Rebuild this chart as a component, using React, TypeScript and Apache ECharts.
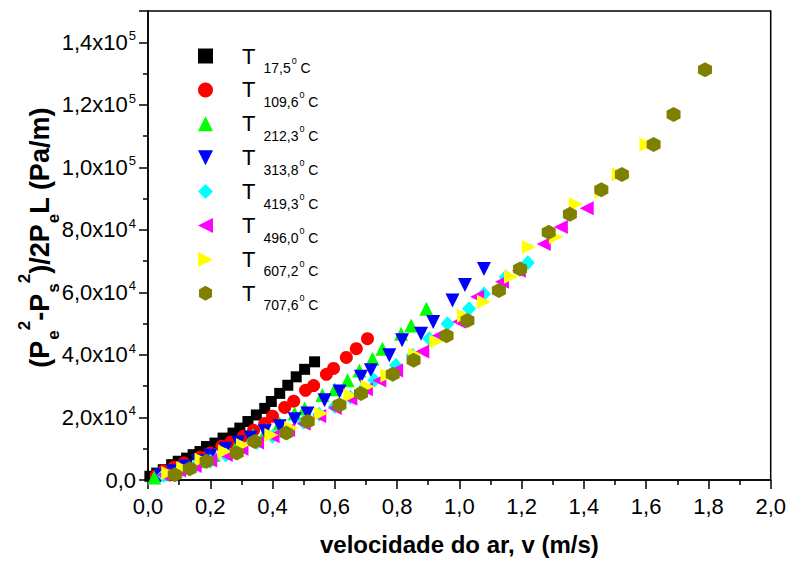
import React, { useEffect, useRef } from "react";
import * as echarts from "echarts";

const FONT = '"Liberation Sans", Arial, Helvetica, sans-serif';

// Series names (temperatures, °C) shown in the legend as T_{name}^0 C
const seriesNames = ["17,5", "109,6", "212,3", "313,8", "419,3", "496,0", "607,2", "707,6"];
const seriesColors = ["#000000", "#ff0000", "#00ff00", "#0000ff", "#00ffff", "#ff00ff", "#ffff00", "#808000"];

// [velocity m/s, (Pe²-Ps²)/2PeL Pa/m]
const t17_5 = [
  [0.535, 37800], [0.503, 35400], [0.476, 33000], [0.449, 30300], [0.423, 27700], [0.396, 25100],
  [0.375, 22900], [0.348, 20800], [0.321, 18700], [0.295, 16600], [0.273, 15000], [0.241, 13400],
  [0.215, 11800], [0.188, 10700], [0.167, 9100], [0.145, 8100], [0.124, 7000], [0.097, 6000],
  [0.076, 4900], [0.049, 3300], [0.028, 2200], [0.006, 1200],
];
const t109_6 = [
  [0.705, 45200], [0.669, 42000], [0.637, 39200], [0.596, 35700], [0.573, 33800], [0.532, 30200],
  [0.506, 28700], [0.468, 25200], [0.439, 23200], [0.4, 20400], [0.375, 18100], [0.339, 15900],
  [0.307, 14000], [0.266, 12100], [0.237, 10800], [0.199, 8600], [0.167, 7300], [0.115, 5400],
  [0.083, 4100], [0.051, 2900], [0.026, 1300],
];
const t212_3 = [
  [0.894, 54800], [0.845, 49400], [0.813, 46800], [0.753, 42000], [0.721, 38800], [0.679, 35000],
  [0.641, 31900], [0.6, 29000], [0.56, 27200], [0.503, 22900], [0.471, 21300], [0.423, 18100],
  [0.38, 16000], [0.337, 14400], [0.29, 12000], [0.25, 10000], [0.21, 8000], [0.17, 6000],
  [0.13, 4500], [0.09, 3000], [0.05, 1800], [0.02, 800],
];
const t313_8 = [
  [1.079, 67500], [1.018, 62400], [0.978, 57400], [0.916, 50500], [0.877, 46800], [0.816, 44700],
  [0.775, 39900], [0.716, 35100], [0.684, 33000], [0.615, 28300], [0.567, 25500], [0.512, 21300],
  [0.471, 19400], [0.423, 17200], [0.375, 15600], [0.33, 13500], [0.29, 12000], [0.25, 10000],
  [0.2, 7800], [0.16, 6000], [0.12, 4300], [0.08, 2800], [0.04, 1400],
];
const t419_3 = [
  [1.22, 69500], [1.149, 64900], [1.079, 59500], [1.031, 54800], [0.962, 50000], [0.903, 45200],
  [0.85, 39900], [0.796, 36700], [0.727, 31900], [0.69, 29000], [0.65, 26500], [0.6, 23500],
  [0.55, 21000], [0.5, 18500], [0.45, 16000], [0.4, 14000], [0.35, 12000], [0.3, 10000],
  [0.25, 8000], [0.2, 6000], [0.15, 4200], [0.1, 2800], [0.05, 1500],
];
const t496_0 = [
  [1.409, 86900], [1.326, 80900], [1.271, 75500], [1.191, 66900], [1.137, 63400], [1.057, 58600],
  [0.999, 50600], [0.935, 46200], [0.881, 41100], [0.797, 35000], [0.743, 31800], [0.7, 29000],
  [0.65, 26000], [0.6, 23000], [0.55, 20500], [0.5, 18000], [0.45, 16000], [0.4, 14000],
  [0.35, 12000], [0.3, 10000], [0.25, 8000], [0.2, 6200], [0.15, 4500], [0.1, 3000], [0.05, 1600],
];
const t607_2 = [
  [1.601, 107300], [1.512, 97700], [1.457, 92300], [1.374, 88200], [1.31, 77700], [1.223, 74500],
  [1.166, 65000], [1.079, 57000], [1.015, 52500], [0.926, 44300], [0.858, 40100], [0.769, 33400],
  [0.705, 29900], [0.65, 27000], [0.556, 21300], [0.46, 16600], [0.396, 14400], [0.305, 11200],
  [0.247, 9100], [0.172, 6500], [0.113, 3800], [0.065, 2200],
];
const t707_6 = [
  [1.789, 131200], [1.688, 116900], [1.624, 107300], [1.522, 97700], [1.456, 92800], [1.355, 85000],
  [1.287, 79200], [1.195, 67500], [1.127, 60600], [1.026, 51000], [0.959, 46100], [0.853, 38300],
  [0.786, 33800], [0.684, 27700], [0.615, 24000], [0.513, 18700], [0.444, 15000], [0.343, 12300],
  [0.285, 8600], [0.188, 6000], [0.134, 3600], [0.086, 1700],
];

const HEX = "path://M0,-10 L8.66,-5 L8.66,5 L0,10 L-8.66,5 L-8.66,-5 Z";
const TRI_DOWN = "path://M0,0 L10,0 L5,10 Z";
const TRI_LEFT = "path://M10,0 L10,10 L0,5 Z";
const TRI_RIGHT = "path://M0,0 L0,10 L10,5 Z";
const allData = [t17_5, t109_6, t212_3, t313_8, t419_3, t496_0, t607_2, t707_6];
const symbols = ["rect", "circle", "triangle", TRI_DOWN, "diamond", TRI_LEFT, TRI_RIGHT, HEX];
const sizes: any[] = [11, 13, 14, 14, [14, 15], 14, 14, [14, 15]];

function yLabel(val: number): string {
  if (val === 0) return "{n|0,0}";
  if (val > 140000) return "";
  const exp = Math.floor(Math.log10(val) + 1e-9);
  const mant = val / Math.pow(10, exp);
  return `{n|${mant.toFixed(1).replace(".", ",")}x10}{e|${exp}}`;
}

export default function App() {
  const ref = useRef<HTMLDivElement>(null);
  useEffect(() => {
    if (!ref.current) return;
    const chart = echarts.init(ref.current, null, { renderer: "svg" });
    const series = seriesNames.map((name, i) => ({
      name,
      type: "scatter",
      data: allData[i],
      symbol: symbols[i],
      symbolSize: sizes[i],
      itemStyle: { color: seriesColors[i], opacity: 1 },
      emphasis: { disabled: true },
    }));
    chart.setOption({
      animation: false,
      backgroundColor: "#ffffff",
      textStyle: { fontFamily: FONT },
      grid: {
        left: 148, right: 16.5, top: 11, bottom: 79,
        show: true, borderColor: "#000", borderWidth: 1.5, backgroundColor: "transparent",
        containLabel: false,
      },
      legend: {
        orient: "vertical",
        left: 198,
        top: 45,
        padding: 0,
        itemWidth: 15,
        itemHeight: 15,
        itemGap: 3.9,
        selectedMode: false,
        data: seriesNames.map((name, i) => ({ name, icon: symbols[i] })),
        formatter: (name: string) => `{t|T}{s0|${name}}{p|0}{s| C}`,
        textStyle: {
          fontFamily: FONT,
          color: "#000",
          rich: {
            t: { fontSize: 22, fontFamily: FONT, color: "#000", padding: [0, 0, 0, 24] },
            s0: { fontSize: 14, fontFamily: FONT, color: "#000", padding: [24, 0, 0, 8] },
            s: { fontSize: 14, fontFamily: FONT, color: "#000", padding: [24, 0, 0, 0] },
            p: { fontSize: 9, fontFamily: FONT, color: "#000", padding: [10, 0, 0, 1] },
          },
        },
      },
      xAxis: {
        type: "value",
        min: 0,
        max: 2,
        interval: 0.2,
        position: "bottom",
        axisLine: { show: true, onZero: false, lineStyle: { color: "#000", width: 1.5 } },
        axisTick: { show: true, inside: false, length: 9, lineStyle: { color: "#000", width: 1.5 } },
        minorTick: { show: true, splitNumber: 2, length: 5, lineStyle: { color: "#000", width: 1.5 } },
        splitLine: { show: false },
        axisLabel: {
          margin: 15,
          fontSize: 22,
          color: "#000",
          fontFamily: FONT,
          formatter: (v: number) => v.toFixed(1).replace(".", ","),
        },
        name: "velocidade do ar, v (m/s)",
        nameLocation: "middle",
        nameGap: 52,
        nameTextStyle: { fontSize: 24, fontWeight: "bold", color: "#000", fontFamily: FONT },
      },
      yAxis: {
        type: "value",
        min: 0,
        max: 150000,
        interval: 20000,
        position: "left",
        axisLine: { show: true, onZero: false, lineStyle: { color: "#000", width: 1.5 } },
        axisTick: { show: true, inside: false, length: 9, lineStyle: { color: "#000", width: 1.5 } },
        minorTick: { show: true, splitNumber: 2, length: 5, lineStyle: { color: "#000", width: 1.5 } },
        splitLine: { show: false },
        axisLabel: {
          margin: 12,
          color: "#000",
          fontFamily: FONT,
          formatter: yLabel,
          rich: {
            n: { fontSize: 22, fontFamily: FONT, color: "#000" },
            e: { fontSize: 13, fontFamily: FONT, color: "#000", padding: [0, 0, 13, 1] },
          },
        },
        name: "{m0|(P}{sb|e}{sp|2}{m|-P}{sb|s}{sp|2}{m|)/2P}{sb|e}{m|L (Pa/m)}",
        nameLocation: "middle",
        nameRotate: 90,
        nameGap: 84,
        nameMoveOverlap: false,
        nameTextStyle: {
          fontSize: 27,
          fontWeight: "bold",
          color: "#000",
          fontFamily: FONT,
          rich: {
            m0: { fontSize: 27, fontWeight: "bold", fontFamily: FONT, color: "#000", padding: [0, 0, 0, 16] },
            m: { fontSize: 27, fontWeight: "bold", fontFamily: FONT, color: "#000" },
            sb: { fontSize: 17, fontWeight: "bold", fontFamily: FONT, color: "#000", padding: [27, 0, 0, 1] },
            sp: { fontSize: 17, fontWeight: "bold", fontFamily: FONT, color: "#000", padding: [0, 0, 31, 0] },
          },
        },
      },
      series,
    });
    return () => chart.dispose();
  }, []);
  return (
    <div
      ref={ref}
      style={{ position: "absolute", left: 0, top: 0, width: 789, height: 561 }}
    />
  );
}
